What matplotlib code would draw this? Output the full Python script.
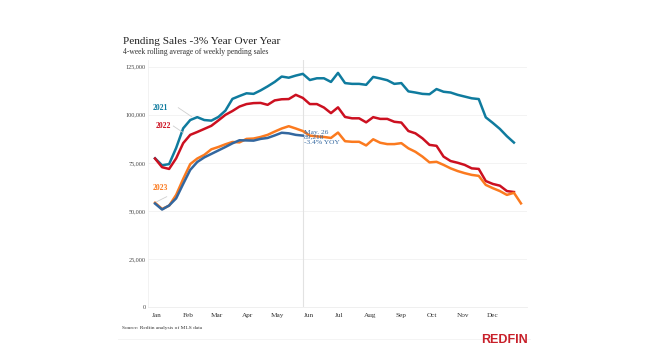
import matplotlib
matplotlib.use("Agg")
import matplotlib.pyplot as plt
from matplotlib.lines import Line2D
import pandas as pd

# ---------------- data ----------------
week_start = "2022-12-30"
months = ["Jan", "Feb", "Mar", "Apr", "May", "Jun", "Jul", "Aug", "Sep", "Oct", "Nov", "Dec"]
y_ticks = [0, 25000, 50000, 75000, 100000, 125000]

sales_2021 = [77.4, 73.8, 74.4, 82.8, 93.0, 97.3, 98.8, 97.3, 97.0, 98.9, 102.2, 108.3, 109.8,
              111.2, 110.9, 112.7, 114.8, 117.1, 119.9, 119.3, 120.4, 121.3, 118.1, 119.0, 119.0,
              117.1, 121.8, 116.5, 116.1, 116.1, 115.6, 119.7, 118.9, 118.0, 116.1, 116.5, 112.2,
              111.6, 110.9, 110.7, 113.4, 112.0, 111.6, 110.4, 109.5, 108.6, 108.2, 98.7, 95.8,
              92.7, 88.9, 85.6]
sales_2022 = [77.3, 72.8, 71.9, 77.4, 85.3, 89.6, 91.1, 92.7, 94.3, 97.1, 100.0, 102.0, 104.3,
              105.6, 106.1, 106.2, 105.2, 107.5, 108.1, 108.2, 110.4, 108.8, 105.6, 105.6, 103.8,
              100.9, 103.9, 98.9, 98.2, 98.2, 96.1, 98.8, 97.9, 97.9, 96.4, 96.0, 91.6, 90.4, 87.8,
              84.4, 83.9, 78.3, 76.0, 75.1, 74.0, 72.2, 71.9, 65.6, 64.1, 63.2, 60.4, 59.9]
sales_orange = [54.3, 51.1, 52.8, 58.4, 66.7, 74.4, 77.3, 79.2, 82.1, 83.3, 84.7, 85.9, 85.7,
                87.5, 87.7, 88.5, 89.6, 91.3, 92.9, 94.1, 92.9, 91.6, 89.2, 88.8, 88.5, 88.0,
                90.8, 86.3, 86.0, 86.0, 84.1, 87.3, 85.5, 84.8, 84.8, 85.3, 82.6, 80.8, 78.3,
                75.3, 75.6, 74.0, 72.2, 70.8, 69.7, 68.8, 68.3, 63.6, 61.9, 60.4, 58.4, 59.5, 54.0]
sales_2023 = [53.9, 50.8, 52.9, 56.6, 64.1, 71.4, 75.5, 77.9, 79.7, 81.5, 83.3, 85.2, 86.8,
              86.7, 86.6, 87.5, 88.0, 89.3, 90.7, 90.4, 89.6, 89.218]

c2021 = "#0f7b9e"
c2022 = "#cc1020"
corange = "#fb7a1f"
c2023 = "#33679f"

serif = ["Liberation Serif", "DejaVu Serif"]

fig = plt.figure(figsize=(6.5, 3.52), dpi=100)
fig.patch.set_facecolor("white")
ax = fig.add_axes([148 / 650, 1 - 307.3 / 352, (527 - 148) / 650, (307.3 - 60) / 352])

def dates(n):
    return pd.date_range(week_start, periods=n, freq="7D")

def k(vals):
    return [v * 1000 for v in vals]

lw = 1.8
ax.plot(dates(len(sales_2021)), k(sales_2021), color=c2021, lw=lw, zorder=4)
ax.plot(dates(len(sales_2022)), k(sales_2022), color=c2022, lw=lw, zorder=4)
ax.plot(dates(len(sales_orange)), k(sales_orange), color=corange, lw=lw, zorder=4)
ax.plot(dates(len(sales_2023)), k(sales_2023), color=c2023, lw=lw, zorder=5)

last_date = dates(len(sales_2023))[-1]
ax.axvline(last_date, color="#e2e2e2", lw=0.8, zorder=1)

ax.set_xlim(pd.Timestamp("2022-12-23"), pd.Timestamp("2024-01-04"))
ax.set_ylim(0, 128500)

month_dates = pd.date_range("2023-01-01", periods=12, freq="MS")
ax.set_xticks(month_dates)
ax.set_xticklabels(months, fontsize=5.2, family=serif, color="#333333")
ax.set_yticks(y_ticks)
ax.set_yticklabels([f"{v:,}" for v in y_ticks], fontsize=4.4, family=serif, color="#444444")
ax.tick_params(axis="both", length=0)
ax.tick_params(axis="x", pad=4)
ax.tick_params(axis="y", pad=1.5)
ax.grid(axis="y", color="#f1f1f1", lw=0.6)
ax.set_axisbelow(True)
for s in ["top", "right"]:
    ax.spines[s].set_visible(False)
ax.spines["left"].set_color("#f0f0f0")
ax.spines["left"].set_linewidth(0.6)
ax.spines["bottom"].set_color("#ececec")
ax.spines["bottom"].set_linewidth(0.6)

# series labels with leader lines
def label(txt, color, tx, ty, p0, p1):
    fig.text(tx / 650, 1 - ty / 352, txt, fontsize=5.6, family=serif,
             fontweight="bold", color=color, ha="center", va="center")
    fig.add_artist(Line2D([p0[0] / 650, p1[0] / 650], [1 - p0[1] / 352, 1 - p1[1] / 352],
                          color="#cfcfcf", lw=0.6, zorder=3))

label("2021", c2021, 160, 107.7, (178.3, 107.7), (191.7, 116.7))
label("2022", c2022, 163.3, 126, (173.3, 126), (183.3, 132.7))
label("2023", corange, 160, 188.3, (166.7, 196.7), (156.7, 201.7))

# annotation at last point
ann = f"May. 26\n{int(round(sales_2023[-1] * 1000)):,}\n-3.4% YOY"
fig.text(304 / 650, 1 - 137.3 / 352, ann, fontsize=5.4, family=serif, color=c2023,
         ha="left", va="center", linespacing=1.05, zorder=6)

# titles
fig.text(123 / 650, 1 - 41.5 / 352, "Pending Sales -3% Year Over Year", fontsize=8.1,
         family=serif, color="#222222", ha="left", va="center")
fig.text(123 / 650, 1 - 51.8 / 352, "4-week rolling average of weekly pending sales", fontsize=5.5,
         family=serif, color="#333333", ha="left", va="center")

# footer
fig.text(122 / 650, 1 - 328.3 / 352, "Source: Redfin analysis of MLS data", fontsize=3.9,
         family=serif, color="#333333", ha="left", va="center")
fig.text(527.5 / 650, 1 - 343.3 / 352, "REDFIN", fontsize=9,
         family=["Liberation Sans", "DejaVu Sans"],
         fontweight="bold", color="#c8202a", ha="right", va="baseline")
fig.add_artist(Line2D([118 / 650, 530 / 650], [1 - 338.5 / 352] * 2, color="#f2f2f2", lw=0.6))

fig.savefig("out.png", dpi=100, facecolor="white")
